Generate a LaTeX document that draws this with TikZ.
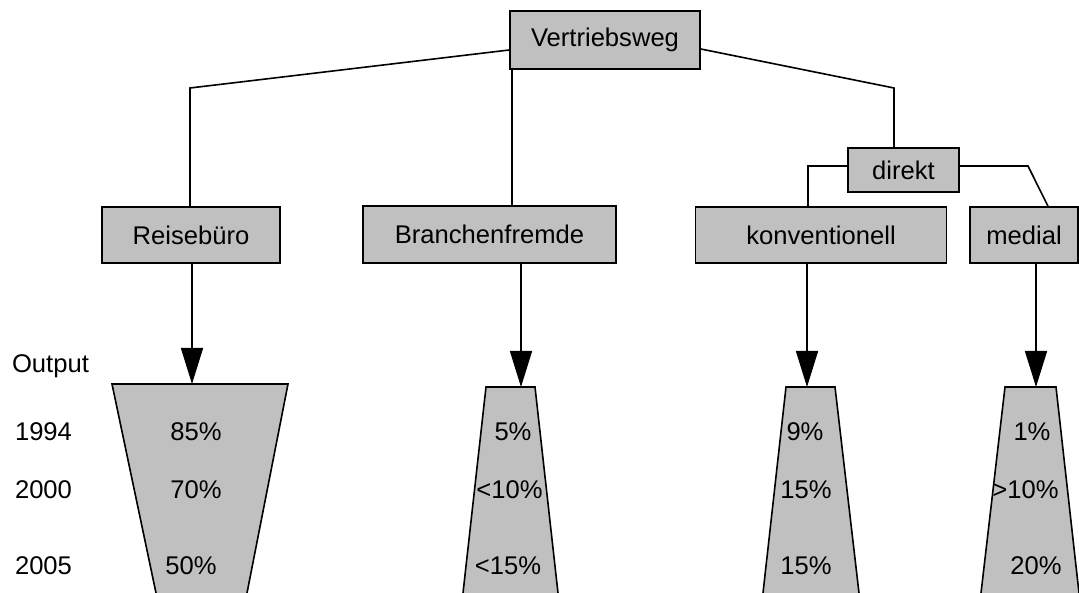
\documentclass[tikz,border=0pt]{standalone}
\usepackage{fontspec}
\setmainfont{Liberation Sans}
\usetikzlibrary{arrows.meta}
\definecolor{kastengrau}{RGB}{192,192,192}

\begin{document}
\begin{tikzpicture}
		[
		x=1pt, y=-1pt, line width=1.6pt, font=\fontsize{25.6}{30}\selectfont,
		kasten/.style={draw, fill=kastengrau, minimum height=56pt, inner sep=0pt},
		trichter/.style={fill=kastengrau, draw, line join=miter},
		pfeil/.style={-{Triangle[length=36pt, width=22pt]}},
		wert/.style={anchor=base}
		%Voreinstellungen
		]
		\useasboundingbox (0,0) rectangle (1079,593);
		
		%Kästen
		\node[kasten, minimum width=190pt, minimum height=58pt] (vw) at (605,40) {Vertriebsweg};
		\node[kasten, minimum width=178pt] (reise) at (191,235) {Reisebüro};
		\node[kasten, minimum width=253pt, minimum height=57pt] (bf) at (489.5,234.5) {Branchenfremde};
		\node[kasten, minimum width=251pt] (konv) at (821,235) {konventionell};
		\node[kasten, minimum width=108pt] (medial) at (1024,235) {medial};
		\node[kasten, minimum width=111pt, minimum height=44pt] (direkt) at (903.5,170) {direkt};
		
		%Knickpunkte
		\coordinate (k0) at (512,88);
		\coordinate (k1) at (190,88);
		\coordinate (k2) at (894,88);
		\coordinate (k3) at (808,166);
		\coordinate (k4) at (1028,166);
		\coordinate (k5) at (1048,205);
		
		%Verbindungen
		\draw ([yshift=-10pt]vw.west) -- (k1) -- (reise.north -| k1);
		\draw (vw.south -| k0) -- (bf.north -| k0);
		\draw ([yshift=-9pt]vw.east) -- (k2) -- (direkt.north -| k2);
		\draw ([yshift=4pt]direkt.west) -- (k3) -- (konv.north -| k3);
		\draw ([yshift=4pt]direkt.east) -- (k4) -- (medial.north -| k5);
		
		%Trichter
		\coordinate (t1) at (192,384);
		\coordinate (t2) at (521,387);
		\coordinate (t3) at (807,387);
		\coordinate (t4) at (1036,387);
		\path[trichter] (156,593) -- (112,384) -- (288,384) -- (247,593);
		\path[trichter] (463,593) -- (486,387) -- (535,387) -- (558,593);
		\path[trichter] (763,593) -- (786,387) -- (835,387) -- (859,593);
		\path[trichter] (981,593) -- (1005,387) -- (1056,387) -- (1079,593);
		
		%Pfeile
		\draw[pfeil] (reise.south -| t1) -- (t1);
		\draw[pfeil] (bf.south -| t2) -- (t2);
		\draw[pfeil] (konv.south -| t3) -- (t3);
		\draw[pfeil] (medial.south -| t4) -- (t4);
		
		%Jahre
		\node[wert] (output) at (50.5,373) {Output};
		\foreach \jahr/\y in {1994/440, 2000/498, 2005/574}
		\node[wert] (j\jahr) at (43.5,\y) {\jahr};
		
		%Anteile
		\node[wert] (r1) at (196,440) {85\%};
		\node[wert] (r2) at (196,498) {70\%};
		\node[wert] (r3) at (191,574) {50\%};
		\node[wert] (b1) at (513,440) {5\%};
		\node[wert] (b2) at (509.5,498) {<10\%};
		\node[wert] (b3) at (508,574) {<15\%};
		\node[wert] (d1) at (805,440) {9\%};
		\node[wert] (d2) at (806,498) {15\%};
		\node[wert] (d3) at (806,574) {15\%};
		\node[wert] (m1) at (1032,440) {1\%};
		\node[wert] (m2) at (1025.5,498) {>10\%};
		\node[wert] (m3) at (1036,574) {20\%};
		
	\end{tikzpicture}
\end{document}
